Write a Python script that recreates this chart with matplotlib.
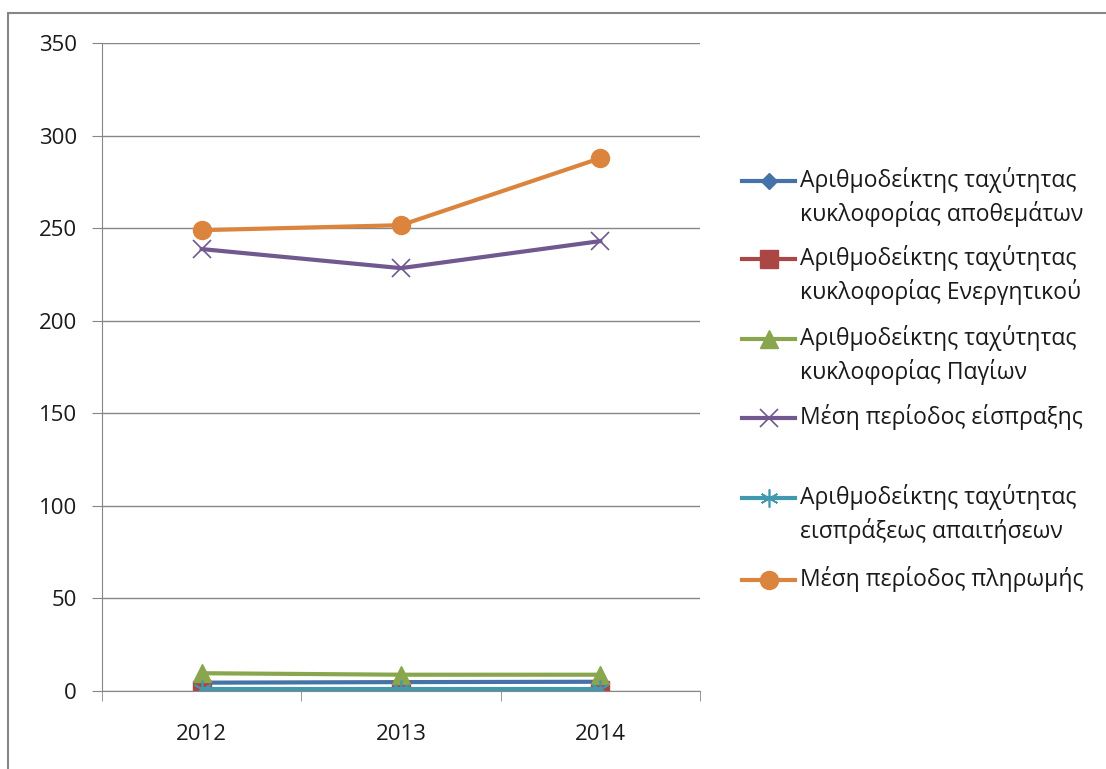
import matplotlib.pyplot as plt
from matplotlib.lines import Line2D
from matplotlib.patches import Rectangle

years = ['2012', '2013', '2014']
apothematon = [4.5, 4.8, 5.0]
energitikou = [0.6, 0.6, 0.6]
pagion = [9.6, 8.8, 8.8]
eisp_period = [238.7, 228.4, 243.0]
apaitiseon = [1.2, 1.2, 1.2]
pliromis = [248.9, 251.6, 287.8]

labels = ['Αριθμοδείκτης ταχύτητας\nκυκλοφορίας αποθεμάτων',
          'Αριθμοδείκτης ταχύτητας\nκυκλοφορίας Ενεργητικού',
          'Αριθμοδείκτης ταχύτητας\nκυκλοφορίας Παγίων',
          'Μέση περίοδος είσπραξης',
          'Αριθμοδείκτης ταχύτητας\nεισπράξεως απαιτήσεων',
          'Μέση περίοδος πληρωμής']

plt.rcParams['font.family'] = ['Open Sans', 'DejaVu Sans']
txt = '#1a1a1a'
grey = '#868686'

fig = plt.figure(figsize=(11.06, 7.69), dpi=100)
ax = fig.add_axes([102/1106, 1-691/769, 598/1106, 648/769])

x = range(len(years))
series = [
    (apothematon, '#4572A7', dict(marker='D', ms=8)),
    (energitikou, '#AA4643', dict(marker='s', ms=13)),
    (pagion, '#89A54E', dict(marker='^', ms=13)),
    (eisp_period, '#71588F', dict(marker='x', ms=13, mew=1.2)),
    (apaitiseon, '#4198AF', dict(marker=(6, 2, 0), ms=13, mew=1.2)),
    (pliromis, '#DB843D', dict(marker='o', ms=13)),
]
for vals, col, mk in series:
    ax.plot(x, vals, color=col, lw=3, mec=col, mfc=col, **mk)

ax.set_xlim(-0.5, 2.5)
ax.set_ylim(0, 350)
ax.set_yticks(range(0, 351, 50))
ax.grid(axis='y', color=grey, lw=1)
ax.set_axisbelow(True)
for s in ['top', 'right']:
    ax.spines[s].set_visible(False)
for s in ['left', 'bottom']:
    ax.spines[s].set_color(grey)
ax.set_xticks(list(x))
ax.set_xticklabels(years)
ax.set_xticks([-0.5, 0.5, 1.5, 2.5], minor=True)
ax.tick_params(axis='x', which='major', length=0, pad=24, labelsize=16, labelcolor=txt)
ax.tick_params(axis='x', which='minor', length=7, color=grey)
ax.tick_params(axis='y', length=7, color=grey, pad=11, labelsize=16, labelcolor=txt)

# legend drawn by hand to keep the marker on the first text line
ys = [181, 259, 339, 418, 498, 580]
for (vals, col, mk), lab, yp in zip(series, labels, ys):
    yf = 1 - yp/769
    fig.add_artist(Line2D([742/1106, 795/1106], [yf, yf], color=col, lw=3,
                          transform=fig.transFigure))
    fig.add_artist(Line2D([769/1106], [yf], color=col, mec=col, mfc=col,
                          transform=fig.transFigure, **mk))
    fig.text(800/1106, yf + 14/769, lab, fontsize=16.5, color=txt, va='top',
             linespacing=1.38)

fig.add_artist(Rectangle((8/1106, -0.2), 1.2, (769-13)/769 + 0.2, fill=False,
                         ec=grey, lw=1.5, transform=fig.transFigure))

fig.savefig('out.png', dpi=100)
